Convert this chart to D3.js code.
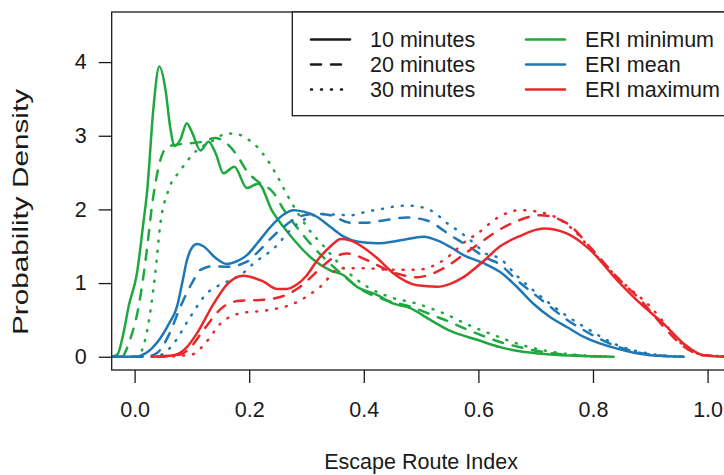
<!DOCTYPE html>
<html>
<head>
<meta charset="utf-8">
<script src="https://cdn.jsdelivr.net/npm/d3@7"></script>
<style>
  html, body { margin: 0; padding: 0; background: #fff; }
  svg { display: block; }
  text { font-family: "Liberation Sans", Arial, Helvetica, sans-serif; fill: #1a1a1a; }
</style>
</head>
<body>
<svg id="chart" width="724" height="475"></svg>
<script>
// Kernel density estimates of the Escape Route Index, [x, density] pairs
const minimum10 = [[-0.04,0],[-0.03,0.03],[-0.02,0.3],[-0.01,0.7],[0.004,1.13],[0.015,1.8],[0.022,2.26],[0.033,3.39],[0.043,3.94],[0.054,3.62],[0.062,3.12],[0.07,2.86],[0.08,2.95],[0.091,3.17],[0.1,3.05],[0.115,2.8],[0.129,2.92],[0.142,2.75],[0.155,2.49],[0.174,2.58],[0.196,2.29],[0.216,2.35],[0.24,1.98],[0.26,1.76],[0.289,1.49],[0.31,1.33],[0.342,1.17],[0.364,1.11],[0.388,0.95],[0.423,0.84],[0.452,0.72],[0.481,0.66],[0.516,0.5],[0.551,0.35],[0.598,0.23],[0.638,0.13],[0.667,0.08],[0.725,0.03],[0.78,0.01],[0.836,0]];
const minimum20 = [[-0.02,0],[-0.008,0.23],[0.007,0.68],[0.022,1.49],[0.03,2.03],[0.042,2.58],[0.057,2.85],[0.075,2.88],[0.1,2.9],[0.12,2.92],[0.14,2.97],[0.16,2.9],[0.18,2.72],[0.196,2.52],[0.215,2.38],[0.243,2.22],[0.26,2.0],[0.283,1.76],[0.312,1.49],[0.336,1.3],[0.353,1.18],[0.394,0.92],[0.434,0.78],[0.481,0.68],[0.528,0.54],[0.551,0.47],[0.574,0.39],[0.609,0.28],[0.638,0.2],[0.667,0.14],[0.725,0.05],[0.78,0.015],[0.83,0]];
const minimum30 = [[0,0],[0.01,0.05],[0.022,0.36],[0.036,1.13],[0.045,1.81],[0.059,2.26],[0.08,2.53],[0.103,2.76],[0.138,2.94],[0.161,3.03],[0.18,3.02],[0.196,2.96],[0.215,2.84],[0.231,2.68],[0.249,2.45],[0.266,2.2],[0.285,1.95],[0.301,1.76],[0.33,1.5],[0.365,1.2],[0.406,0.95],[0.446,0.81],[0.493,0.72],[0.539,0.59],[0.586,0.42],[0.632,0.28],[0.667,0.18],[0.725,0.07],[0.78,0.02],[0.83,0]];
const mean10 = [[-0.04,0],[0,0],[0.02,0.05],[0.04,0.2],[0.06,0.45],[0.074,0.68],[0.083,1.0],[0.091,1.3],[0.1,1.48],[0.109,1.53],[0.12,1.5],[0.14,1.35],[0.161,1.26],[0.18,1.3],[0.196,1.38],[0.215,1.55],[0.237,1.76],[0.26,1.93],[0.277,1.99],[0.295,1.97],[0.318,1.9],[0.342,1.76],[0.365,1.63],[0.39,1.56],[0.423,1.54],[0.464,1.58],[0.504,1.63],[0.534,1.56],[0.551,1.49],[0.574,1.38],[0.609,1.27],[0.638,1.15],[0.667,0.95],[0.696,0.72],[0.725,0.54],[0.755,0.4],[0.784,0.27],[0.842,0.11],[0.9,0.02],[0.958,0]];
const mean20 = [[-0.04,0],[0.02,0],[0.039,0.05],[0.06,0.3],[0.08,0.68],[0.1,1.0],[0.115,1.18],[0.138,1.23],[0.161,1.22],[0.196,1.29],[0.215,1.42],[0.237,1.6],[0.266,1.8],[0.29,1.91],[0.318,1.94],[0.342,1.92],[0.376,1.82],[0.405,1.82],[0.434,1.85],[0.475,1.89],[0.51,1.85],[0.551,1.65],[0.598,1.42],[0.609,1.36],[0.638,1.25],[0.667,1.04],[0.696,0.86],[0.725,0.68],[0.755,0.5],[0.784,0.36],[0.842,0.14],[0.9,0.03],[0.958,0]];
const mean30 = [[-0.04,0],[0.03,0],[0.05,0.04],[0.07,0.2],[0.097,0.54],[0.126,0.86],[0.15,0.98],[0.167,1.04],[0.19,1.14],[0.208,1.27],[0.243,1.47],[0.277,1.76],[0.3,1.88],[0.322,1.94],[0.35,1.93],[0.376,1.92],[0.405,1.97],[0.434,2.01],[0.465,2.05],[0.481,2.05],[0.516,1.99],[0.551,1.78],[0.563,1.72],[0.598,1.5],[0.609,1.42],[0.638,1.33],[0.667,1.1],[0.696,0.9],[0.725,0.72],[0.755,0.55],[0.784,0.41],[0.842,0.16],[0.9,0.04],[0.958,0]];
const maximum10 = [[0.03,0],[0.068,0.02],[0.09,0.12],[0.109,0.32],[0.138,0.72],[0.161,0.98],[0.19,1.1],[0.225,1.02],[0.249,0.92],[0.265,0.92],[0.283,0.98],[0.3,1.1],[0.318,1.3],[0.342,1.5],[0.36,1.6],[0.376,1.58],[0.4,1.48],[0.423,1.34],[0.452,1.13],[0.493,0.97],[0.528,0.95],[0.551,0.99],[0.574,1.08],[0.609,1.3],[0.638,1.5],[0.67,1.63],[0.714,1.74],[0.755,1.67],[0.795,1.45],[0.842,1.04],[0.883,0.72],[0.923,0.45],[0.958,0.18],[0.993,0.02],[1.03,0],[1.06,0]];
const maximum20 = [[0.04,0],[0.08,0.03],[0.1,0.15],[0.12,0.36],[0.155,0.68],[0.184,0.76],[0.219,0.77],[0.254,0.81],[0.289,0.95],[0.324,1.2],[0.35,1.36],[0.371,1.4],[0.406,1.31],[0.446,1.16],[0.493,1.08],[0.539,1.2],[0.58,1.42],[0.609,1.58],[0.638,1.73],[0.667,1.84],[0.708,1.92],[0.755,1.81],[0.795,1.49],[0.842,1.08],[0.883,0.77],[0.923,0.41],[0.958,0.14],[0.993,0.02],[1.06,0]];
const maximum30 = [[0.05,0],[0.1,0.03],[0.125,0.2],[0.15,0.45],[0.184,0.59],[0.231,0.63],[0.277,0.72],[0.324,0.95],[0.359,1.2],[0.406,1.2],[0.446,1.18],[0.493,1.18],[0.539,1.31],[0.58,1.58],[0.598,1.67],[0.632,1.88],[0.673,1.99],[0.72,1.94],[0.766,1.72],[0.807,1.36],[0.853,1.0],[0.9,0.68],[0.935,0.36],[0.964,0.11],[1.0,0.02],[1.06,0]];

const xTicks = [0, 0.2, 0.4, 0.6, 0.8, 1.0];
const yTicks = [0, 1, 2, 3, 4];
const durations = ["10 minutes", "20 minutes", "30 minutes"];
const statistics = ["ERI minimum", "ERI mean", "ERI maximum"];
const colors = ["#1fa83f", "#1f78b4", "#e8282b"];
const dashes = [null, "10,10", "1,9"];
const xTitle = "Escape Route Index";
const yTitle = "Probability Density";

const series = [
  [minimum10, minimum20, minimum30],
  [mean10, mean20, mean30],
  [maximum10, maximum20, maximum30]
];

const fontSize = "21.5px";
const svg = d3.select("#chart");
const plot = { left: 111.7, top: 12, right: 730.5, bottom: 370 };

const x = d3.scaleLinear().domain([-0.04, 1.04]).range([plot.left, plot.right]);
const y = d3.scaleLinear().domain([-0.18, 4.68]).range([plot.bottom, plot.top]);

svg.append("defs").append("clipPath").attr("id", "plotClip")
  .append("rect")
  .attr("x", plot.left).attr("y", plot.top)
  .attr("width", plot.right - plot.left).attr("height", plot.bottom - plot.top);

const line = d3.line()
  .x(d => x(d[0]))
  .y(d => y(d[1]))
  .curve(d3.curveMonotoneX);

// density curves
const curves = svg.append("g").attr("clip-path", "url(#plotClip)");
series.forEach((group, si) => {
  group.forEach((pts, di) => {
    curves.append("path")
      .datum(pts)
      .attr("d", line)
      .attr("fill", "none")
      .attr("stroke", colors[si])
      .attr("stroke-width", 2.5)
      .attr("stroke-linecap", "round")
      .attr("stroke-linejoin", "round")
      .attr("stroke-dasharray", dashes[di]);
  });
});

// axes
const xAxis = d3.axisBottom(x).tickValues(xTicks).tickFormat(d3.format(".1f"))
  .tickSize(13).tickPadding(19);
const gx = svg.append("g").attr("transform", `translate(0,${plot.bottom})`).call(xAxis);
gx.select(".domain").remove();
gx.selectAll(".tick line").attr("stroke", "#1a1a1a").attr("stroke-width", 1.3);
gx.selectAll(".tick text").style("font-size", fontSize).attr("fill", "#1a1a1a");

const yAxis = d3.axisLeft(y).tickValues(yTicks).tickFormat(d3.format("d"))
  .tickSize(13).tickPadding(12);
const gy = svg.append("g").attr("transform", `translate(${plot.left},0)`).call(yAxis);
gy.select(".domain").remove();
gy.selectAll(".tick line").attr("stroke", "#1a1a1a").attr("stroke-width", 1.3);
gy.selectAll(".tick text").style("font-size", fontSize).attr("fill", "#1a1a1a");

// plot frame
svg.append("rect")
  .attr("x", plot.left).attr("y", plot.top)
  .attr("width", plot.right - plot.left).attr("height", plot.bottom - plot.top)
  .attr("fill", "none").attr("stroke", "#1a1a1a").attr("stroke-width", 1.3);

// axis titles
svg.append("text")
  .attr("x", (plot.left + plot.right) / 2).attr("y", 469)
  .attr("text-anchor", "middle").style("font-size", fontSize)
  .text(xTitle);
svg.append("text")
  .attr("transform", "translate(28,212) rotate(-90)")
  .attr("text-anchor", "middle").style("font-size", fontSize)
  .attr("textLength", 246).attr("lengthAdjust", "spacingAndGlyphs")
  .text(yTitle);

// legend
const legend = svg.append("g");
legend.append("rect")
  .attr("x", 292.3).attr("y", plot.top)
  .attr("width", plot.right - 292.3).attr("height", 115.7 - plot.top)
  .attr("fill", "#fff").attr("stroke", "#1a1a1a").attr("stroke-width", 1.3);
const rowY = i => 39.5 + i * 25;
durations.forEach((label, i) => {
  legend.append("line")
    .attr("x1", 311).attr("x2", 350).attr("y1", rowY(i)).attr("y2", rowY(i))
    .attr("stroke", "#1a1a1a").attr("stroke-width", 2.5)
    .attr("stroke-linecap", "round").attr("stroke-dasharray", dashes[i]);
  legend.append("text")
    .attr("x", 370).attr("y", rowY(i)).attr("dy", "0.35em")
    .style("font-size", fontSize).text(label);
});
statistics.forEach((label, i) => {
  legend.append("line")
    .attr("x1", 526).attr("x2", 565).attr("y1", rowY(i)).attr("y2", rowY(i))
    .attr("stroke", colors[i]).attr("stroke-width", 2.5)
    .attr("stroke-linecap", "round");
  legend.append("text")
    .attr("x", 585).attr("y", rowY(i)).attr("dy", "0.35em")
    .style("font-size", fontSize).text(label);
});
</script>
</body>
</html>
